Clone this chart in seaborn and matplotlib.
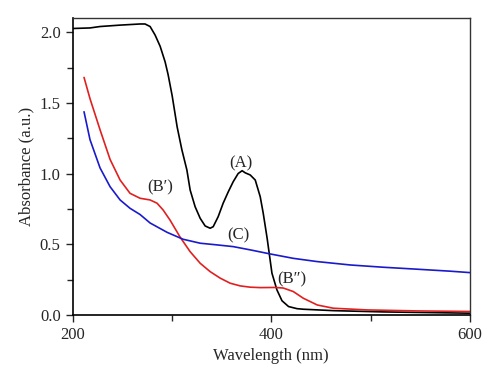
import matplotlib
matplotlib.use('Agg')

import pandas as pd
import matplotlib.pyplot as plt
import seaborn as sns
from matplotlib.ticker import MultipleLocator, FormatStrFormatter

# curve (A), black
wl_a = [200, 217.6, 227.7, 247.9, 268.0, 273.0, 278.1, 283.1, 288.2, 293.2,
        296.2, 300.3, 305.3, 310.0, 315.1, 318.4, 323.4, 328.5, 333.5, 338.5,
        341.6, 346.6, 351.6, 356.7, 361.7, 366.7, 370.7, 373.8, 378.8, 383.9,
        388.9, 391.9, 395.9, 400.7, 405.7, 410.8, 417.4, 425.9, 432.2, 462.5,
        512.8, 600]
abs_a = [2.026, 2.03, 2.04, 2.05, 2.058, 2.058, 2.04, 1.98, 1.90, 1.79,
         1.70, 1.55, 1.33, 1.17, 1.025, 0.883, 0.765, 0.683, 0.629, 0.613,
         0.624, 0.695, 0.79, 0.87, 0.942, 1.0, 1.02, 1.005, 0.99, 0.954,
         0.836, 0.72, 0.54, 0.295, 0.177, 0.10, 0.059, 0.044, 0.04, 0.03,
         0.021, 0.012]

# curve (B), red
wl_b = [211.6, 217.6, 227.7, 237.8, 247.9, 257.9, 268.0, 278.1, 285.1, 291.2,
        298.2, 308.3, 318.4, 328.5, 338.5, 348.6, 358.7, 368.8, 378.8, 388.9,
        404.0, 412.1, 422.2, 432.2, 446.3, 462.5, 496.7, 547.1, 600]
abs_b = [1.68, 1.53, 1.31, 1.10, 0.954, 0.86, 0.825, 0.813, 0.79, 0.742,
         0.67, 0.55, 0.447, 0.365, 0.306, 0.26, 0.224, 0.205, 0.196, 0.193,
         0.194, 0.19, 0.165, 0.118, 0.07, 0.047, 0.035, 0.028, 0.024]

# curve (C), blue
wl_c = [211.6, 217.6, 227.7, 237.8, 247.9, 257.9, 268.0, 278.1, 295.2, 311.3,
        328.5, 345.6, 361.7, 378.8, 399.0, 422.2, 446.3, 479.6, 512.8, 547.1,
        580.4, 600]
abs_c = [1.437, 1.24, 1.04, 0.907, 0.813, 0.754, 0.71, 0.65, 0.584, 0.535,
         0.507, 0.495, 0.483, 0.46, 0.431, 0.40, 0.377, 0.353, 0.337, 0.323,
         0.309, 0.299]

labels = ["(A)", "(B\u2032)", "(C)", "(B\u2033)"]
label_x = [369, 288, 367, 421]
label_y = [1.07, 0.90, 0.56, 0.254]

sns.set_style("ticks")
plt.rcParams['font.family'] = ['Liberation Serif', 'DejaVu Serif']

fig = plt.figure(figsize=(5, 3.84), dpi=100)
ax = fig.add_axes([0.145, 0.18, 0.795, 0.773])

df_a = pd.DataFrame({'wl': wl_a, 'abs': abs_a})
df_b = pd.DataFrame({'wl': wl_b, 'abs': abs_b})
df_c = pd.DataFrame({'wl': wl_c, 'abs': abs_c})

sns.lineplot(data=df_a, x='wl', y='abs', color='black', lw=1.2, ax=ax)
sns.lineplot(data=df_b, x='wl', y='abs', color='#e02020', lw=1.2, ax=ax)
sns.lineplot(data=df_c, x='wl', y='abs', color='#1a1acc', lw=1.2, ax=ax)

for t, x, y in zip(labels, label_x, label_y):
    ax.text(x, y, t, fontsize=12, ha='center', va='center')

ax.set_xlim(200, 600)
ax.set_ylim(0, 2.1)
ax.xaxis.set_major_locator(MultipleLocator(200))
ax.xaxis.set_minor_locator(MultipleLocator(100))
ax.yaxis.set_major_locator(MultipleLocator(0.5))
ax.yaxis.set_minor_locator(MultipleLocator(0.25))
ax.yaxis.set_major_formatter(FormatStrFormatter('%.1f'))
ax.tick_params(which='major', length=5, width=1, labelsize=12, direction='out')
ax.tick_params(which='minor', length=4, width=1, direction='out')

for s in ['left', 'bottom']:
    ax.spines[s].set_linewidth(1.2)
    ax.spines[s].set_color('black')
for s in ['top', 'right']:
    ax.spines[s].set_linewidth(1.0)
    ax.spines[s].set_color('#333333')

ax.set_xlabel('Wavelength (nm)', fontsize=12)
ax.set_ylabel('Absorbance (a.u.)', fontsize=12)

fig.savefig('out.png', dpi=100)
